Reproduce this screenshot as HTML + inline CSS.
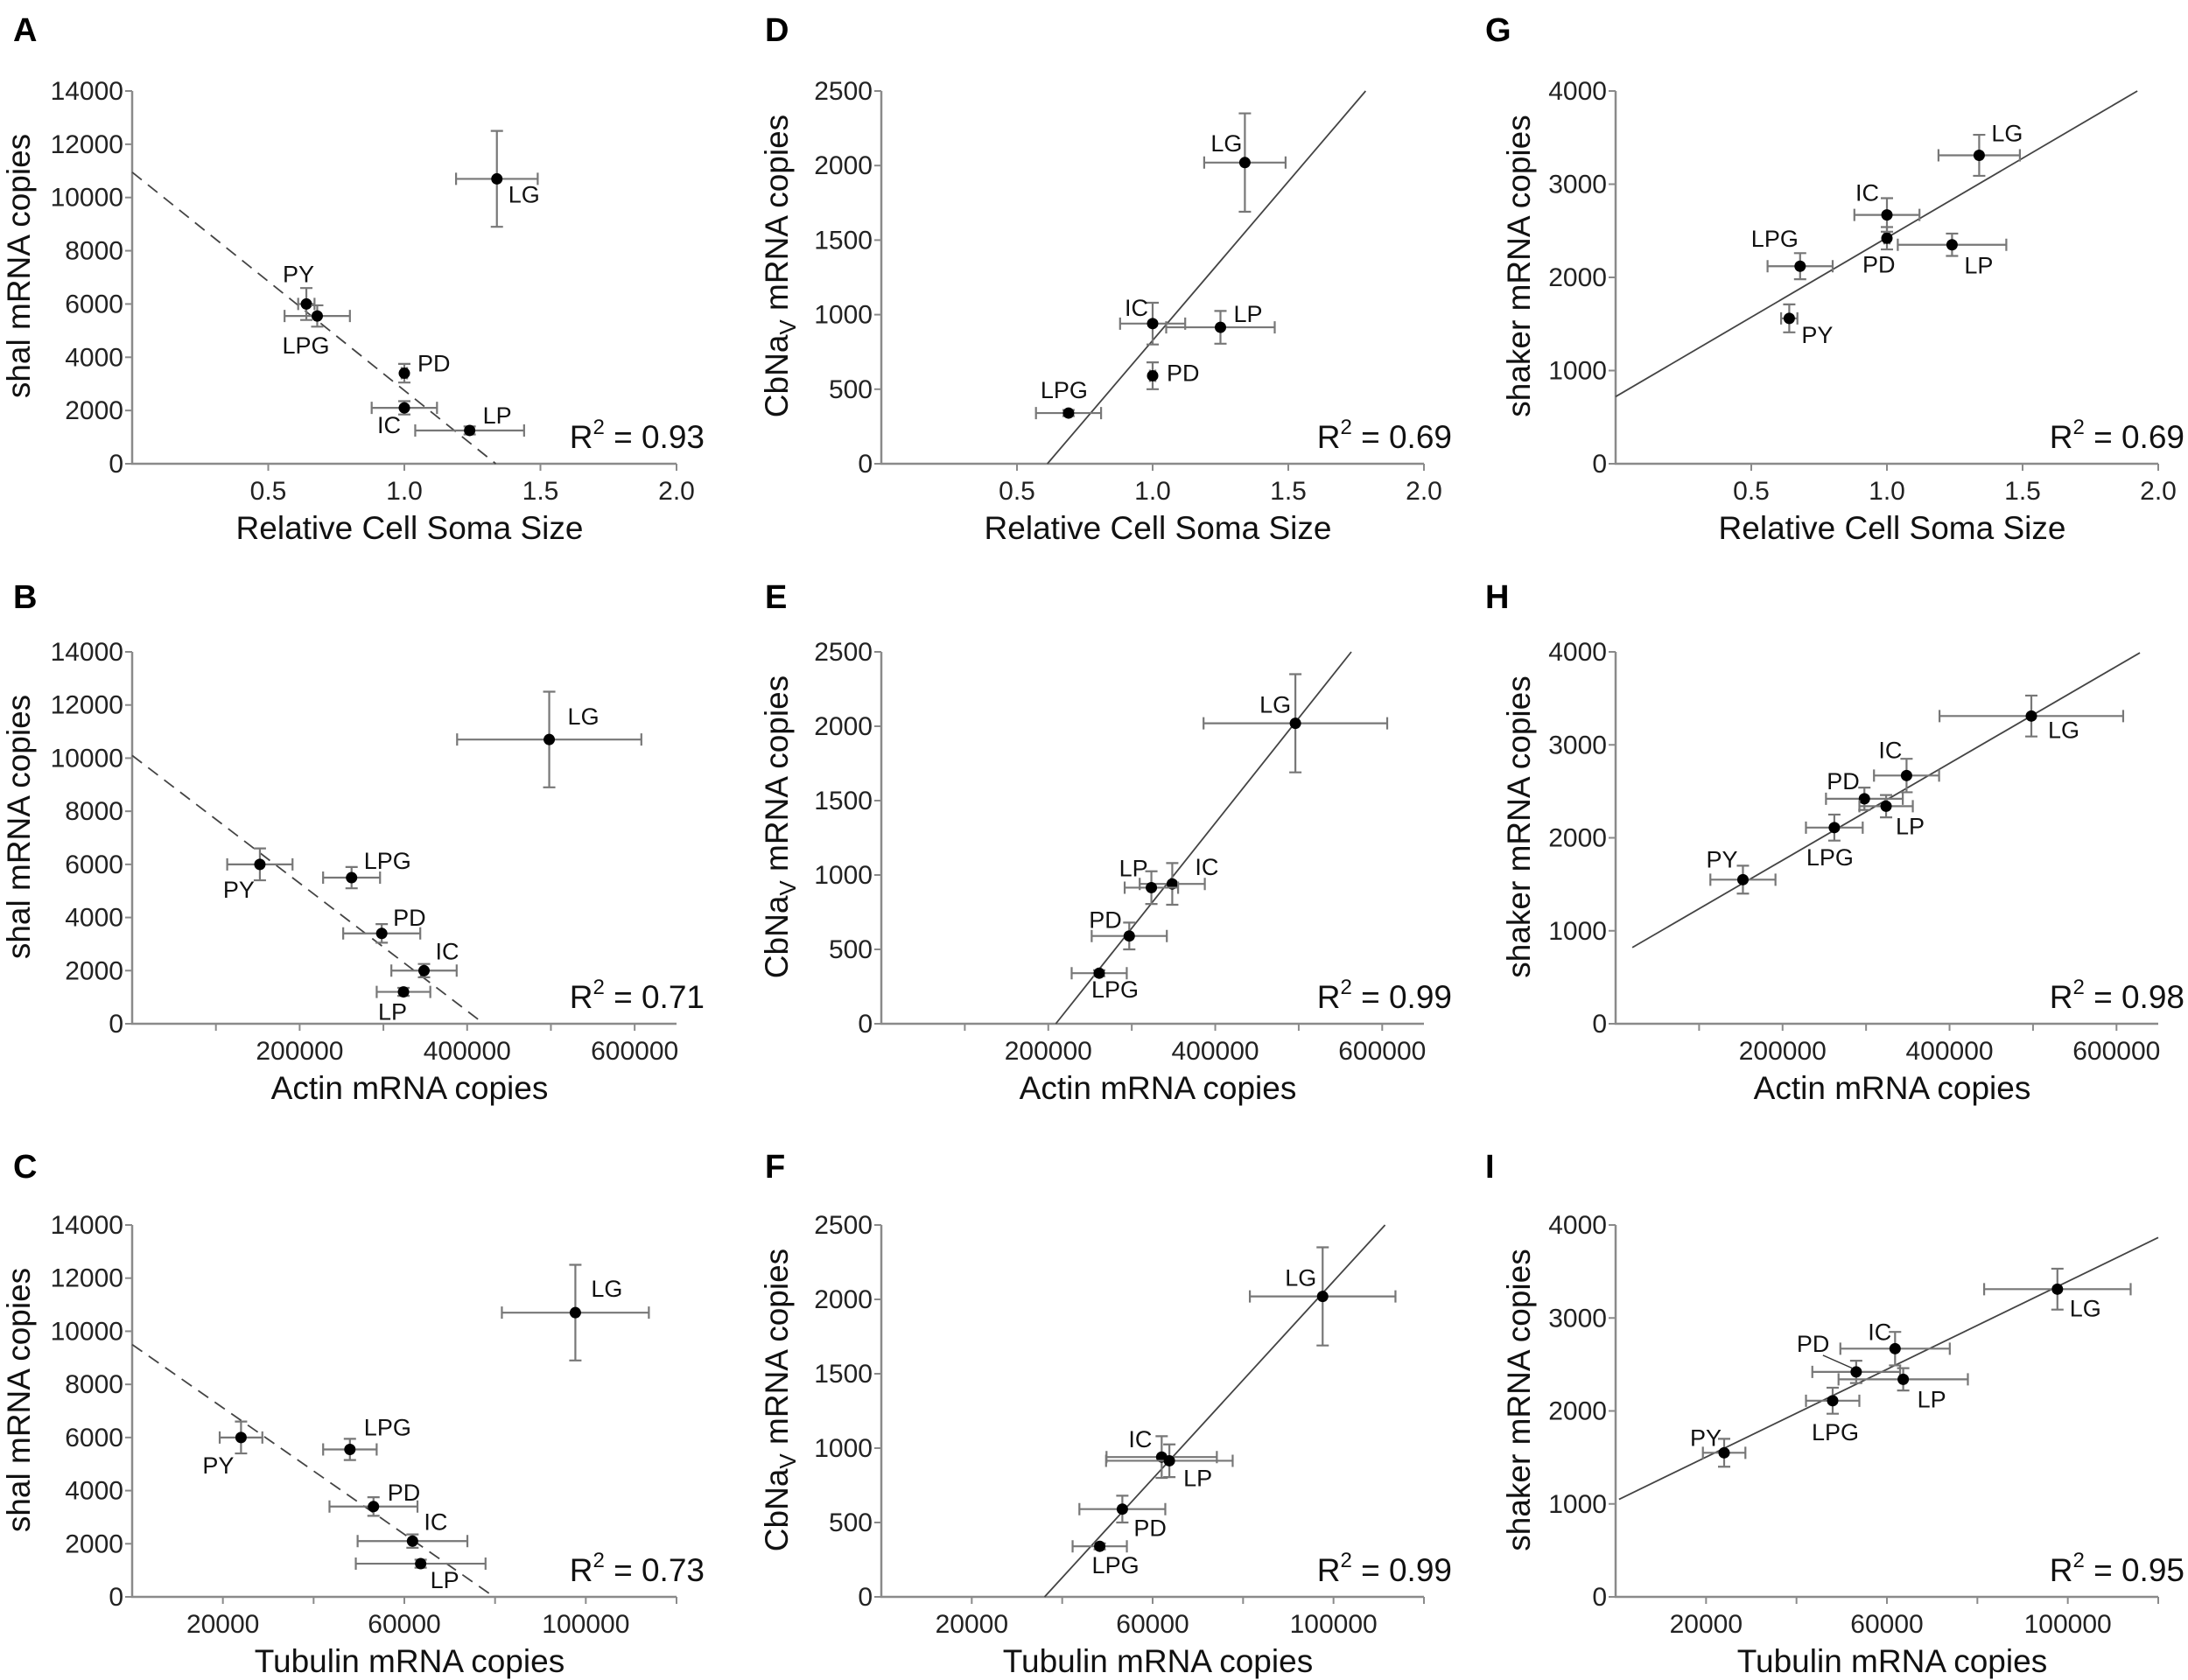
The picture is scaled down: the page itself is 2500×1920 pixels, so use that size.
<!DOCTYPE html>
<html><head><meta charset="utf-8">
<style>
html,body{margin:0;padding:0;background:#fff;}
svg{display:block;font-family:"Liberation Sans",Arial,sans-serif;}
</style></head>
<body>
<svg id="fig" width="2500" height="1920" viewBox="0 0 2500 1920" xmlns="http://www.w3.org/2000/svg"></svg>
<script>
// ---- data ----
const cellNames6 = ["LG","PY","LPG","PD","IC","LP"];
const cellNames5 = ["LG","LPG","PD","IC","LP"];
// Relative soma size
const somaX6 = [1.34,0.64,0.68,1.0,1.0,1.24];
const somaXErr6 = [0.15,0.03,0.12,0.01,0.12,0.2];
const somaX5 = [1.34,0.69,1.0,1.0,1.25];
const somaXErr5 = [0.15,0.12,0.01,0.12,0.2];
// Actin
const actinX6 = [498000,152500,262000,298000,348500,324000];
const actinXErr6 = [110000,39000,34000,46000,39000,32000];
const actinX5 = [496000,261000,297000,348500,323500];
const actinXErr5 = [110000,33000,45000,39000,32000];
// Tubulin
const tubX6 = [97700,24000,48000,53200,61800,63600];
const tubXErr6 = [16200,4700,5900,9700,12100,14300];
const tubX5 = [97600,48300,53300,62000,63700];
const tubXErr5 = [16100,6000,9500,12200,14000];
// shal
const shalY = [10700,6000,5550,3400,2100,1250];
const shalYErr = [1800,600,400,350,250,150];
const shalYB = [10700,6000,5500,3400,2000,1200];
// CbNav
const navY = [2020,340,590,940,915];
const navYErr = [330,20,90,140,110];
// shaker
const shakY = [3310,1560,2120,2420,2670,2350];
const shakYErr = [220,150,140,120,180,120];
const shakYH = [3310,1550,2110,2420,2670,2340];
// trend lines [x1,y1,x2,y2]
const trendA = [0,10950,1.336,0];
const trendB = [0,10100,420000,0];
const trendC = [0,9500,79800,0];
const trendD = [0.612,0,1.785,2500];
const trendE = [209000,0,563000,2500];
const trendF = [36100,0,111400,2500];
const trendG = [0,720,1.923,4000];
const trendH = [20000,820,628000,3990];
const trendI = [750,1049,120000,3865];
const r2Values = ["0.93","0.71","0.73","0.69","0.99","0.99","0.69","0.98","0.95"];
// tick labels
const shalTicks = [0,2000,4000,6000,8000,10000,12000,14000];
const navTicks = [0,500,1000,1500,2000,2500];
const shakTicks = [0,1000,2000,3000,4000];
const somaTicks = [0.5,1.0,1.5,2.0];
const somaLabels = ["0.5","1.0","1.5","2.0"];
const actinTicks = [100000,200000,300000,400000,500000,600000];
const actinLabels = ["","200000","","400000","","600000"];
const tubTicks = [20000,40000,60000,80000,100000,120000];
const tubLabels = ["20000","","60000","","100000",""];

// ---- layout (styling, not data) ----
const SVGNS="http://www.w3.org/2000/svg";
const fig=document.getElementById('fig');
const cols=[{x0:151,x1:773,letterX:15,titleX:34},{x0:1007,x1:1627,letterX:874,titleX:900},{x0:1846,x1:2466,letterX:1697,titleX:1748}];
const rows=[{y0:104,y1:530,letterY:47},{y0:745,y1:1170,letterY:695},{y0:1400,y1:1825,letterY:1346}];
function mk(tag,attrs,parent){const e=document.createElementNS(SVGNS,tag);for(const k in attrs)e.setAttribute(k,attrs[k]);(parent||fig).appendChild(e);return e;}

const panels=[
 {letter:"A",c:0,r:0,xd:[0,2],yd:[0,14000],xs:somaX6,xe:somaXErr6,ys:shalY,ye:shalYErr,names:cellNames6,trend:trendA,dash:true,yt:shalTicks,xt:somaTicks,xl:somaLabels,xTitle:"Relative Cell Soma Size",yTitle:"shal",
  lab:[[13,27],[-27,-25],[-40,43],[15,-2],[-31,29],[15,-8]]},
 {letter:"B",c:0,r:1,xd:[0,650000],yd:[0,14000],xs:actinX6,xe:actinXErr6,ys:shalYB,ye:shalYErr,names:cellNames6,trend:trendB,dash:true,yt:shalTicks,xt:actinTicks,xl:actinLabels,xTitle:"Actin mRNA copies",yTitle:"shal",
  lab:[[21,-17],[-42,38],[14,-10],[13,-9],[13,-13],[-29,32]]},
 {letter:"C",c:0,r:2,xd:[0,120000],yd:[0,14000],xs:tubX6,xe:tubXErr6,ys:shalY,ye:shalYErr,names:cellNames6,trend:trendC,dash:true,yt:shalTicks,xt:tubTicks,xl:tubLabels,xTitle:"Tubulin mRNA copies",yTitle:"shal",
  lab:[[18,-18],[-44,41],[16,-16],[16,-7],[13,-13],[11,28]]},
 {letter:"D",c:1,r:0,xd:[0,2],yd:[0,2500],xs:somaX5,xe:somaXErr5,ys:navY,ye:navYErr,names:cellNames5,trend:trendD,dash:false,yt:navTicks,xt:somaTicks,xl:somaLabels,xTitle:"Relative Cell Soma Size",yTitle:"nav",
  lab:[[-39,-13],[-32,-17],[16,6],[-32,-9],[15,-6]]},
 {letter:"E",c:1,r:1,xd:[0,650000],yd:[0,2500],xs:actinX5,xe:actinXErr5,ys:navY,ye:navYErr,names:cellNames5,trend:trendE,dash:false,yt:navTicks,xt:actinTicks,xl:actinLabels,xTitle:"Actin mRNA copies",yTitle:"nav",
  lab:[[-41,-12],[-9,28],[-46,-9],[26,-10],[-37,-13]]},
 {letter:"F",c:1,r:2,xd:[0,120000],yd:[0,2500],xs:tubX5,xe:tubXErr5,ys:navY,ye:navYErr,names:cellNames5,trend:trendF,dash:false,yt:navTicks,xt:tubTicks,xl:tubLabels,xTitle:"Tubulin mRNA copies",yTitle:"nav",
  lab:[[-43,-12],[-9,31],[13,31],[-38,-11],[16,29]]},
 {letter:"G",c:2,r:0,xd:[0,2],yd:[0,4000],xs:somaX6,xe:somaXErr6,ys:shakY,ye:shakYErr,names:cellNames6,trend:trendG,dash:false,yt:shakTicks,xt:somaTicks,xl:somaLabels,xTitle:"Relative Cell Soma Size",yTitle:"shaker",
  lab:[[14,-16],[14,28],[-56,-22],[-28,39],[-36,-16],[14,33]]},
 {letter:"H",c:2,r:1,xd:[0,650000],yd:[0,4000],xs:actinX6,xe:actinXErr6,ys:shakYH,ye:shakYErr,names:cellNames6,trend:trendH,dash:false,yt:shakTicks,xt:actinTicks,xl:actinLabels,xTitle:"Actin mRNA copies",yTitle:"shaker",
  lab:[[19,25],[-42,-14],[-32,43],[-43,-11],[-32,-20],[11,32]]},
 {letter:"I",c:2,r:2,xd:[0,120000],yd:[0,4000],xs:tubX6,xe:tubXErr6,ys:shakYH,ye:shakYErr,names:cellNames6,trend:trendI,dash:false,yt:shakTicks,xt:tubTicks,xl:tubLabels,xTitle:"Tubulin mRNA copies",yTitle:"shaker",
  lab:[[14,31],[-39,-8],[-24,45],[-68,-23],[-31,-10],[16,32]],leader:3}
];

panels.forEach((p,pi)=>{
  const C=cols[p.c],R=rows[p.r];
  const sx=v=>C.x0+(v-p.xd[0])/(p.xd[1]-p.xd[0])*(C.x1-C.x0);
  const sy=v=>R.y1-(v-p.yd[0])/(p.yd[1]-p.yd[0])*(R.y1-R.y0);
  const g=mk('g',{});
  
  
  const L=mk('text',{x:C.letterX,y:R.letterY,'font-size':38,'font-weight':'bold',fill:'#000'},g);
  L.textContent=p.letter;
  
  
  const ax=mk('path',{d:`M${C.x0},${R.y0} V${R.y1} H${C.x1}`,stroke:'#8a8a8a','stroke-width':2.5,fill:'none'},g);
  
  
  p.yt.forEach(v=>{
    const y=sy(v);
    mk('line',{x1:C.x0-8,x2:C.x0,y1:y,y2:y,stroke:'#8a8a8a','stroke-width':2},g);
    const t=mk('text',{x:C.x0-10,y:y+10,'font-size':30,'text-anchor':'end',fill:'#222'},g);
    t.textContent=String(v);
    
    
  });
  p.xt.forEach((v,i)=>{
    const x=sx(v);
    mk('line',{x1:x,x2:x,y1:R.y1,y2:R.y1+8,stroke:'#8a8a8a','stroke-width':2},g);
    if(p.xl[i]){
      const t=mk('text',{x:x,y:R.y1+41,'font-size':30,'text-anchor':'middle',fill:'#222'},g);
      t.textContent=p.xl[i];
      
      
    }
  });
  const xt=mk('text',{x:(C.x0+C.x1)/2+6,y:R.y1+86,'font-size':37,'text-anchor':'middle',fill:'#111'},g);
  xt.textContent=p.xTitle;
  
  
  const cy=R.y0+200;
  const yt=mk('text',{x:C.titleX,y:cy,'font-size':37,'text-anchor':'middle',fill:'#111',transform:`rotate(-90 ${C.titleX} ${cy})`},g);
  
  
  if(p.yTitle==='nav'){
    const a=mk('tspan',{},yt);a.textContent='CbNa';
    const b=mk('tspan',{'font-size':26,dy:9},yt);b.textContent='V';
    const c=mk('tspan',{dy:-9},yt);c.textContent=' mRNA copies';
  } else yt.textContent=p.yTitle+' mRNA copies';
  const tl=mk('line',{x1:sx(p.trend[0]),y1:sy(p.trend[1]),x2:sx(p.trend[2]),y2:sy(p.trend[3]),stroke:'#444','stroke-width':1.8},g);
  if(p.dash)tl.setAttribute('stroke-dasharray','14 9');
  
  
  p.xs.forEach((xv,i)=>{
    const x=sx(xv),y=sy(p.ys[i]);
    const xa=sx(xv-p.xe[i]),xb=sx(xv+p.xe[i]);
    const ya=sy(p.ys[i]-p.ye[i]),yb=sy(p.ys[i]+p.ye[i]);
    const eb=mk('path',{d:`M${xa},${y}H${xb}M${xa},${y-7}V${y+7}M${xb},${y-7}V${y+7}M${x},${ya}V${yb}M${x-7},${ya}H${x+7}M${x-7},${yb}H${x+7}`,stroke:'#777','stroke-width':2.2,fill:'none'},g);
    
    
    const dot=mk('circle',{cx:x,cy:y,r:6.5,fill:'#000'},g);
    
    
    const lb=mk('text',{x:x+p.lab[i][0],y:y+p.lab[i][1],'font-size':27,fill:'#111'},g);
    lb.textContent=p.names[i];
    
    
    if(p.leader===i){
      const ld=mk('line',{x1:x+p.lab[i][0]+30,y1:y+p.lab[i][1]+4,x2:x-4,y2:y-4,stroke:'#333','stroke-width':1.5},g);
      
      
    }
  });
  const rt=mk('text',{x:Math.min(C.x1+32,2496),y:R.y1-18,'font-size':37,'text-anchor':'end',fill:'#111'},g);
  
  
  const t1=mk('tspan',{},rt);t1.textContent='R';
  const t2=mk('tspan',{'font-size':24,dy:-16},rt);t2.textContent='2';
  const t3=mk('tspan',{dy:16},rt);t3.textContent=' = '+r2Values[pi];
});
</script>
</body></html>
